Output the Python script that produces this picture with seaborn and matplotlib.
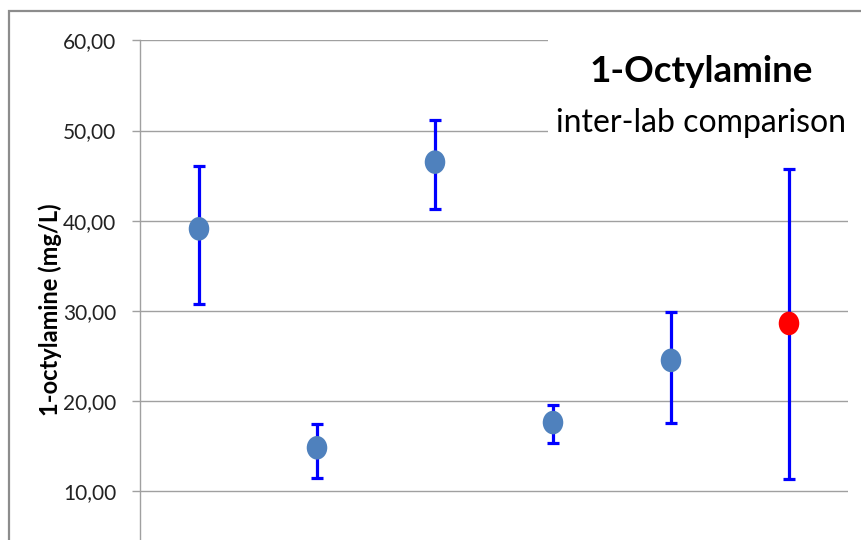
import matplotlib
matplotlib.use("Agg")
import matplotlib.pyplot as plt
import seaborn as sns
import pandas as pd
from matplotlib.path import Path
from matplotlib.transforms import Affine2D
from matplotlib.patches import Rectangle
from matplotlib.ticker import FuncFormatter

# inter-lab results (mg/L)
labs = ['Lab 1', 'Lab 2', 'Lab 3', 'Lab 4', 'Lab 5', 'Lab 6']
values = [39.1, 14.8, 46.5, 17.6, 24.5, 28.6]
upper = [46.1, 17.4, 51.2, 19.6, 29.9, 45.7]
lower = [30.7, 11.5, 41.3, 15.3, 17.5, 11.3]
highlight = [False, False, False, False, False, True]
y_ticks = [10, 20, 30, 40, 50, 60]

df = pd.DataFrame({'lab': labs, 'value': values, 'upper': upper,
                   'lower': lower, 'highlight': highlight})

sns.set_theme(style="white")
plt.rcParams['font.family'] = ['Lato', 'DejaVu Sans']

fig = plt.figure(figsize=(8.61, 5.40), dpi=100)
ax = fig.add_axes([140 / 861, 0, 708 / 861, 500 / 540])

# error bars first, markers on top
xpos = list(range(len(labs)))
yerr = [[v - lo for v, lo in zip(values, lower)],
        [up - v for v, up in zip(values, upper)]]
ax.errorbar(xpos, values, yerr=yerr, fmt='none', ecolor='#0000FF',
            elinewidth=2.3, capsize=4, capthick=2.3, zorder=3)

# slightly tall elliptical marker like the original
ellipse = Path.unit_circle().transformed(Affine2D().scale(0.87, 1.0))
sns.scatterplot(data=df, x='lab', y='value', hue='highlight',
                palette={False: '#4F81BD', True: '#FF0000'},
                marker=ellipse, s=17 ** 2, linewidth=0, legend=False,
                ax=ax, zorder=4)

ax.set_xlim(-0.5, len(labs) - 0.5)
ax.set_ylim(60 - 500 / 9.02, 60.05)
ax.set_yticks(y_ticks)
ax.yaxis.set_major_formatter(FuncFormatter(lambda v, p: f"{v:.2f}".replace('.', ',')))
ax.set_xticks([])
ax.set_xlabel('')
ax.grid(axis='y', color='#A0A0A0', linewidth=1.0)
ax.set_axisbelow(True)
for side in ['top', 'right', 'bottom']:
    ax.spines[side].set_visible(False)
ax.spines['left'].set_color('#A0A0A0')
ax.spines['left'].set_linewidth(1.0)
ax.tick_params(axis='y', left=True, length=6, width=1.0, color='#A0A0A0',
               pad=11, labelsize=15, labelcolor='#222222')

ax.set_ylabel('1-octylamine (mg/L)', fontsize=17, fontweight='bold',
              color='black', va='center')
ax.yaxis.set_label_coords((50 - 140) / 708, (540 - 310) / 500)

# white box behind the title, hiding the gridlines
fig.add_artist(Rectangle((548 / 861, 1 - 150 / 540), 310 / 861, 115 / 540,
                         transform=fig.transFigure, facecolor='white',
                         edgecolor='none', zorder=5))
fig.text(701 / 861, 1 - 82 / 540, '1-Octylamine', ha='center', va='baseline',
         fontsize=26.5, fontweight='bold', color='black', zorder=6)
fig.text(701 / 861, 1 - 132 / 540, 'inter-lab comparison', ha='center',
         va='baseline', fontsize=23, color='black', zorder=6)

# outer chart frame (top and left edges visible)
fig.add_artist(Rectangle((9 / 861, -0.2), 1.2, 1.2 - 11 / 540,
                         transform=fig.transFigure, facecolor='none',
                         edgecolor='#8C8C8C', linewidth=1.6, zorder=7))

plt.savefig('out.png', dpi=100)
